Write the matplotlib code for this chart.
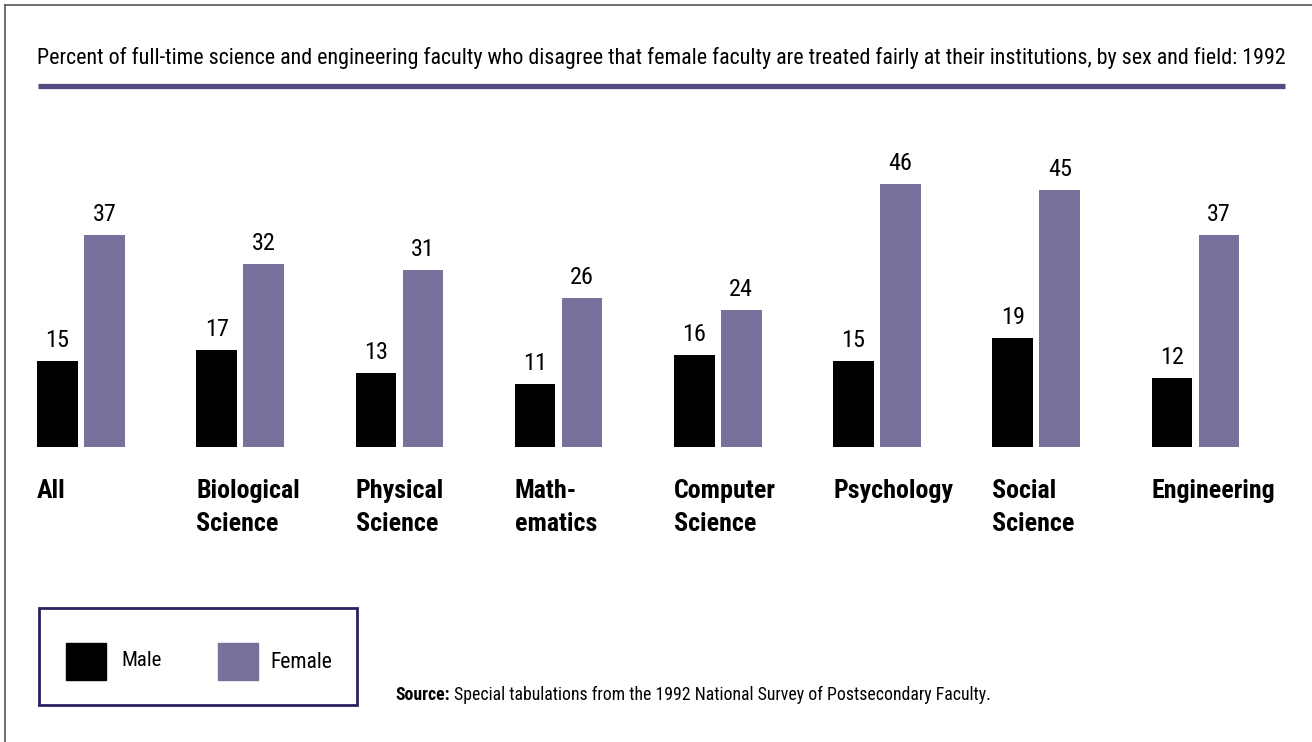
import matplotlib
matplotlib.use("Agg")
import numpy as np
import matplotlib.pyplot as plt
from matplotlib.patches import Rectangle
from matplotlib.lines import Line2D
import matplotlib.transforms as mtransforms
from matplotlib import font_manager

# Data
fields = ["All", "Biological\nScience", "Physical\nScience", "Math-\nematics",
          "Computer\nScience", "Psychology", "Social\nScience", "Engineering"]
male = [15, 17, 13, 11, 16, 15, 19, 12]
female = [37, 32, 31, 26, 24, 46, 45, 37]

title = ("Percent of full-time science and engineering faculty who disagree that "
         "female faculty are treated fairly at their institutions, by sex and field: 1992")
source_head = "Source:"
source_text = "Special tabulations from the 1992 National Survey of Postsecondary Faculty."

MALE_C = "#000000"
FEMALE_C = "#79709b"
RULE_C = "#574a7e"
BOX_C = "#2e1f5e"

# narrow font if one is around, else Liberation Sans (Arial metrics)
names = {f.name for f in font_manager.fontManager.ttflist}
narrow = [n for n in ["Roboto Condensed", "Liberation Sans Narrow", "Arial Narrow"] if n in names]
FONT = narrow[0] if narrow else "Liberation Sans"
plt.rcParams["font.family"] = [FONT, "DejaVu Sans"]

W, H = 1312, 742
fig = plt.figure(figsize=(W / 100, H / 100), dpi=100)


def fx(px):
    return px / W


def fy(py):
    return 1 - py / H


# bar axes: baseline at y=447 px, ~5.7 px per percent
spacing = 159.2
x0 = 81 - 0.5 * spacing
ax = fig.add_axes([fx(x0), fy(447), fx(8 * spacing), (50 * 5.72) / H])
ax.set_xlim(-0.5, 7.5)
ax.set_ylim(0, 50)
ax.axis("off")

x = np.arange(len(fields))
w = 0.255
off = 0.148
ax.bar(x - off, male, w, color=MALE_C)
ax.bar(x + off, female, w, color=FEMALE_C)

for xi, m, f in zip(x, male, female):
    ax.annotate(str(m), (xi - off, m), xytext=(0, 9), textcoords="offset pixels",
                ha="center", va="bottom", fontsize=17.5)
    ax.annotate(str(f), (xi + off, f), xytext=(0, 9), textcoords="offset pixels",
                ha="center", va="bottom", fontsize=17.5)

# category labels under each group, left aligned with the male bar
trans = mtransforms.blended_transform_factory(ax.transData, fig.transFigure)
for xi, name in zip(x, fields):
    fig.text(xi - off - w / 2, fy(479), name, transform=trans, ha="left", va="top",
             fontsize=18.7, fontweight="bold", linespacing=1.45)

# title and rule
fig.text(fx(37), fy(58), title, ha="left", va="center", fontsize=15.85)
fig.add_artist(Line2D([fx(38), fx(1285)], [fy(86), fy(86)], color=RULE_C, lw=3.8,
                      solid_capstyle="butt"))

# outer frame (top and left only)
fig.add_artist(Line2D([fx(5), fx(W)], [fy(5), fy(5)], color="#555555", lw=1.2))
fig.add_artist(Line2D([fx(5), fx(5)], [fy(5), 0], color="#555555", lw=1.2))

# legend box
fig.add_artist(Rectangle((fx(39), fy(705)), fx(318), (705 - 608) / H,
                         transform=fig.transFigure, fill=False, edgecolor=BOX_C, lw=2))
fig.add_artist(Rectangle((fx(66), fy(680)), fx(40), 37 / H,
                         transform=fig.transFigure, color=MALE_C))
fig.add_artist(Rectangle((fx(218), fy(680)), fx(40), 37 / H,
                         transform=fig.transFigure, color=FEMALE_C))
fig.text(fx(121), fy(660), "Male", ha="left", va="center", fontsize=15)
fig.text(fx(270), fy(663), "Female", ha="left", va="center", fontsize=15.5)

# source note
t = fig.text(fx(395), fy(695), source_head, ha="left", va="center", fontsize=12.8,
             fontweight="bold")
fig.canvas.draw()
bb = t.get_window_extent()
fig.text(bb.x1 / W + fx(4), fy(695), source_text, ha="left", va="center", fontsize=12.8)

fig.savefig("out.png", dpi=100)
